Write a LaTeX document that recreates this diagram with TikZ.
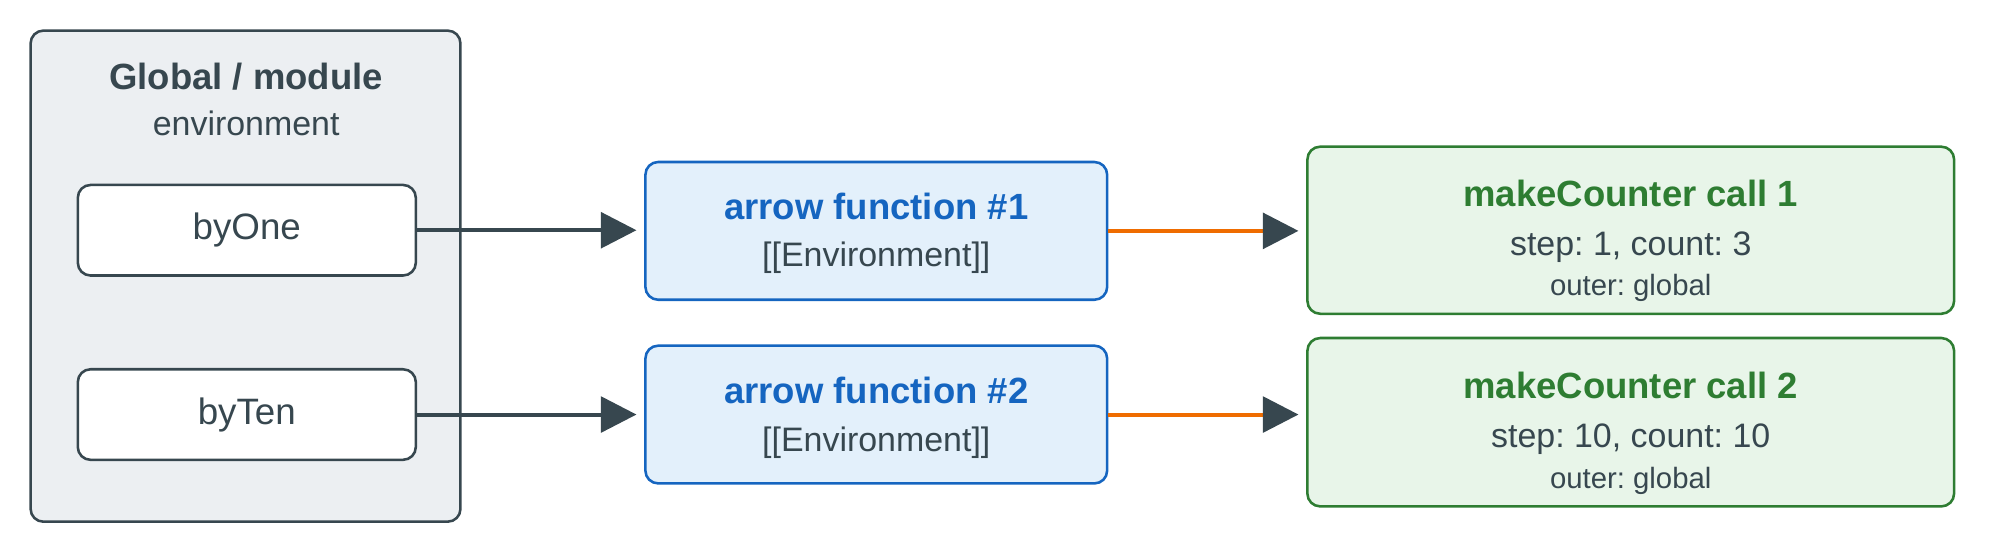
\documentclass[tikz,border=0pt]{standalone}
\usepackage{fontspec}
\setmainfont{Liberation Sans}
\usetikzlibrary{arrows.meta}
\definecolor{dark}{HTML}{37474F}
\definecolor{gfill}{HTML}{ECEFF2}
\definecolor{bfill}{HTML}{E3F0FB}
\definecolor{bstroke}{HTML}{1565C0}
\definecolor{gnfill}{HTML}{E8F5E9}
\definecolor{gnstroke}{HTML}{2E7D32}
\definecolor{orng}{HTML}{EF6C00}
\frenchspacing
\begin{document}
\begin{tikzpicture}[x=0.5pt,y=-0.5pt,
  box/.style={draw=dark,line width=1pt,rounded corners=5pt},
  fn/.style={draw=bstroke,fill=bfill,line width=1pt,rounded corners=5pt},
  mc/.style={draw=gnstroke,fill=gnfill,line width=1pt,rounded corners=5pt},
  txt/.style={text=dark,font=\fontsize{14.4}{16}\selectfont},
  ttl/.style={font=\fontsize{14.3}{16}\selectfont\bfseries},
  sub/.style={text=dark,font=\fontsize{13.3}{15}\selectfont},
  sml/.style={text=dark,font=\fontsize{11.5}{13}\selectfont},
  arr/.style={draw=dark,line width=1.6pt,-{Triangle[length=14pt,width=14pt]}},
  oarr/.style={draw=orng,line width=1.6pt,-{Triangle[length=14pt,width=14pt,color=dark]}}]
\useasboundingbox (0,0) rectangle (1568,434);
\path[box,fill=gfill] (24,24) rectangle (361,409);
\node[ttl,text=dark] (gt) at (193,60) {Global / module};
\node[sub] (ge) at (193,97) {environment};
\node[box,fill=white,minimum width=132.5pt,minimum height=35.5pt,txt] (one) at (193.5,180.5) {byOne};
\node[box,fill=white,minimum width=132.5pt,minimum height=35.5pt,txt] (ten) at (193.5,325) {byTen};
\node[fn,minimum width=181pt,minimum height=54pt] (f1) at (687,181) {};
\node[fn,minimum width=181pt,minimum height=54pt] (f2) at (687,325) {};
\node[ttl,text=bstroke] at (687,162) {arrow function \#1};
\node[sub] at (687,202) {[[Environment]]};
\node[ttl,text=bstroke] at (687,306) {arrow function \#2};
\node[sub] at (687,347) {[[Environment]]};
\node[mc,minimum width=253.5pt,minimum height=65.5pt] (m1) at (1278.5,180.5) {};
\node[mc,minimum width=253.5pt,minimum height=66pt] (m2) at (1278.5,331) {};
\node[ttl,text=gnstroke] at (1278.5,152) {makeCounter call 1};
\node[sub] at (1278.5,194) {step: 1, count: 3};
\node[sml] at (1278.5,226) {outer: global};
\node[ttl,text=gnstroke] at (1278.5,302) {makeCounter call 2};
\node[sub] at (1278.5,344) {step: 10, count: 10};
\node[sml] at (1278.5,377) {outer: global};
\draw[arr,shorten >=3pt] (one.east) -- (f1.west |- one.east);
\draw[arr,shorten >=3pt] (ten.east) -- (f2.west |- ten.east);
\draw[oarr,shorten >=3pt] (f1.east) -- (m1.west |- f1.east);
\draw[oarr,shorten >=3pt] (f2.east) -- (m2.west |- f2.east);
\end{tikzpicture}
\end{document}
